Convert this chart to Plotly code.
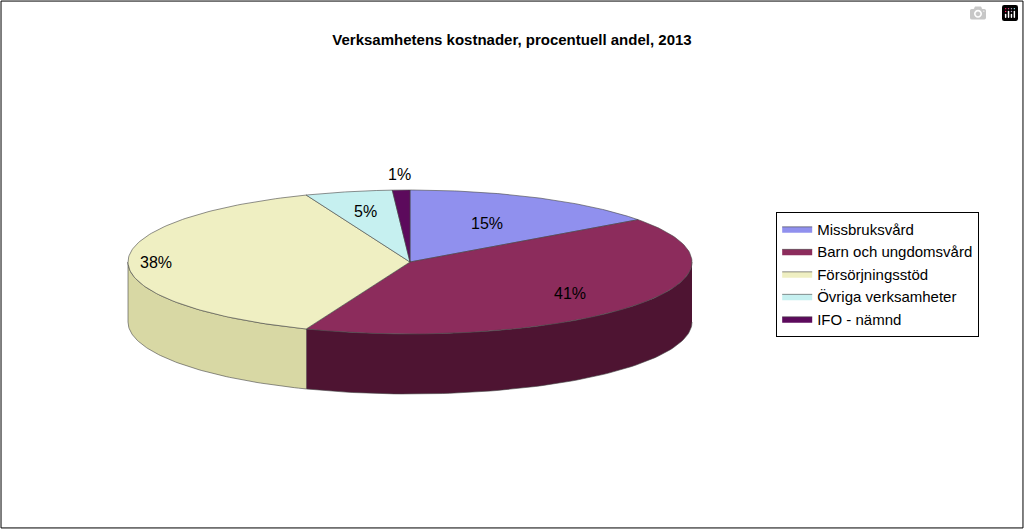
import numpy as np
import plotly.graph_objects as go

categories = ["Missbruksvård", "Barn och ungdomsvård", "Försörjningsstöd", "Övriga verksamheter", "IFO - nämnd"]
shares = [15, 41, 38, 5, 1]
labels = ["15%", "41%", "38%", "5%", "1%"]

top_colors = ["#9090ee", "#8c2c5c", "#efefc2", "#c6f0f0", "#5c0a5c"]
side_colors = ["#6060b0", "#4e1432", "#d8d8a4", "#a0d0d0", "#3a003a"]
label_r = [0.6, 0.72, 0.9, 0.72, 1.22]

cx, cy, rx, ry, depth = 410, 262, 282, 72, 60


def pt(a, r=1.0):
    t = np.radians(a)
    return cx + rx * r * np.sin(t), cy - ry * r * np.cos(t)


fig = go.Figure()
bounds = np.concatenate([[0], np.cumsum(shares)]) * 3.6

# side walls (front half: 90..270 deg)
for i in range(len(shares)):
    a0, a1 = max(bounds[i], 90), min(bounds[i + 1], 270)
    if a1 <= a0:
        continue
    a = np.linspace(a0, a1, 80)
    x, y = pt(a)
    xs = np.concatenate([x, x[::-1]])
    ys = np.concatenate([y, y[::-1] + depth])
    fig.add_trace(go.Scatter(x=xs, y=ys, fill="toself", fillcolor=side_colors[i], mode="lines",
                             line=dict(color="#444", width=0.6), showlegend=False, hoverinfo="skip"))

# tops
for i, name in enumerate(categories):
    a = np.linspace(bounds[i], bounds[i + 1], 120)
    x, y = pt(a)
    xs = np.concatenate([[cx], x, [cx]])
    ys = np.concatenate([[cy], y, [cy]])
    fig.add_trace(go.Scatter(x=xs, y=ys, fill="toself", fillcolor=top_colors[i], mode="lines",
                             line=dict(color="#444", width=0.6), name=name, hoverinfo="skip"))
    mx, my = pt((bounds[i] + bounds[i + 1]) / 2, label_r[i])
    fig.add_annotation(x=mx, y=my, text=labels[i], showarrow=False,
                       font=dict(size=16, color="black", family="Arial"))

fig.update_layout(
    width=1024, height=529,
    margin=dict(l=0, r=0, t=0, b=0),
    paper_bgcolor="white", plot_bgcolor="white",
    font=dict(family="Arial", size=15, color="black"),
    title=dict(text="<b>Verksamhetens kostnader, procentuell andel, 2013</b>", x=0.5, y=0.935,
               xanchor="center", font=dict(size=15)),
    xaxis=dict(range=[0, 1024], visible=False, fixedrange=True),
    yaxis=dict(range=[529, 0], visible=False, fixedrange=True),
    legend=dict(x=0.758, y=0.6, xanchor="left", yanchor="top", bordercolor="black", borderwidth=1,
                font=dict(size=15), tracegroupgap=6, itemwidth=30),
    shapes=[dict(type="rect", xref="paper", yref="paper", x0=0.001, y0=0.002, x1=0.999, y1=0.998,
                 line=dict(color="black", width=1))],
)

fig.write_html("out.html", post_script="document.body.style.margin='0';document.body.style.overflow='hidden';")
